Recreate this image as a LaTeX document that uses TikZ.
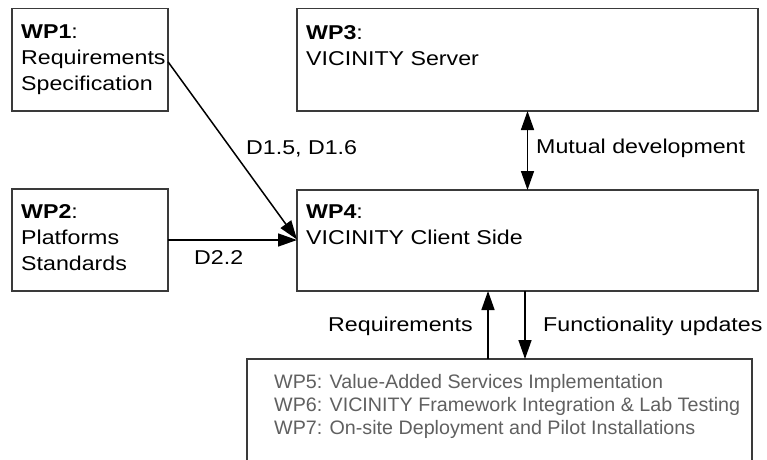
\documentclass[tikz,border=0pt]{standalone}
\usepackage{fontspec}
\setmainfont{Liberation Sans}[FakeStretch=1.16]
\newfontfamily\lowfont{Liberation Sans}[FakeStretch=1.01]
\usetikzlibrary{arrows.meta}
\definecolor{boxline}{HTML}{3A3A3A}
\definecolor{lowtext}{HTML}{606060}
\tikzset{
  wpbox/.style={draw=boxline, line width=1.3pt, rectangle, inner sep=0pt, outer sep=0pt, anchor=north west},
  boxtext/.style={anchor=north west, inner sep=0pt, align=left, font={\fontsize{20}{26}\selectfont}},
  lbl/.style={anchor=base west, inner sep=0pt, font={\fontsize{20}{26}\selectfont}},
  arr/.style={line width=1.5pt, -{Triangle[length=19pt,width=13pt]}},
  darr/.style={line width=1.5pt, {Triangle[length=19pt,width=13pt]}-{Triangle[length=19pt,width=13pt]}},
}
\begin{document}
\begin{tikzpicture}[x=1pt,y=-1pt]
\useasboundingbox (0,0) rectangle (767,459);
% boxes
\node[wpbox, minimum width=156pt, minimum height=102.5pt] (wp1) at (12,8.5) {};
\node[wpbox, minimum width=156pt, minimum height=102pt] (wp2) at (12,189) {};
\node[wpbox, minimum width=461pt, minimum height=102.5pt] (wp3) at (297,8.5) {};
\node[wpbox, minimum width=461pt, minimum height=101pt] (wp4) at (297,190) {};
\node[wpbox, minimum width=505pt, minimum height=120pt] (low) at (247,359) {};
% box texts
\node[boxtext] (t1) at (21,25) {\textbf{WP1}:\\Requirements\\Specification};
\node[boxtext] (t2) at (21,204) {\textbf{WP2}:\\Platforms\\Standards};
\node[boxtext] (t3) at (306,25) {\textbf{WP3}:\\VICINITY Server};
\node[boxtext] (t4) at (306,205) {\textbf{WP4}:\\VICINITY Client Side};
\node[anchor=north west, inner sep=0pt, align=left, text=lowtext,
      font={\lowfont\fontsize{19.5}{23}\selectfont}] (t5) at (274,374)
  {WP5: Value-Added Services Implementation\\
   WP6: VICINITY Framework Integration \& Lab Testing\\
   WP7: On-site Deployment and Pilot Installations};
% coordinates for vertical connectors
\coordinate (rx) at (488,0);
\coordinate (fx) at (525,0);
% connectors
\draw[arr] ([yshift=-2pt]wp1.east) -- ([yshift=1pt]wp4.west);
\draw[arr] (wp2.east) -- (wp2.east -| wp4.west);
\draw[darr] (wp3.south) -- (wp4.north);
\draw[arr] (low.north -| rx) -- (wp4.south -| rx);
\draw[arr] (wp4.south -| fx) -- (low.north -| fx);
% labels
\node[lbl] (l1) at (246,154) {D1.5, D1.6};
\node[lbl] (l2) at (194,264) {D2.2};
\node[lbl] (l3) at (536,153) {Mutual development};
\node[lbl] (l4) at (328,331) {Requirements};
\node[lbl] (l5) at (543,331) {Functionality updates};
\end{tikzpicture}
\end{document}
